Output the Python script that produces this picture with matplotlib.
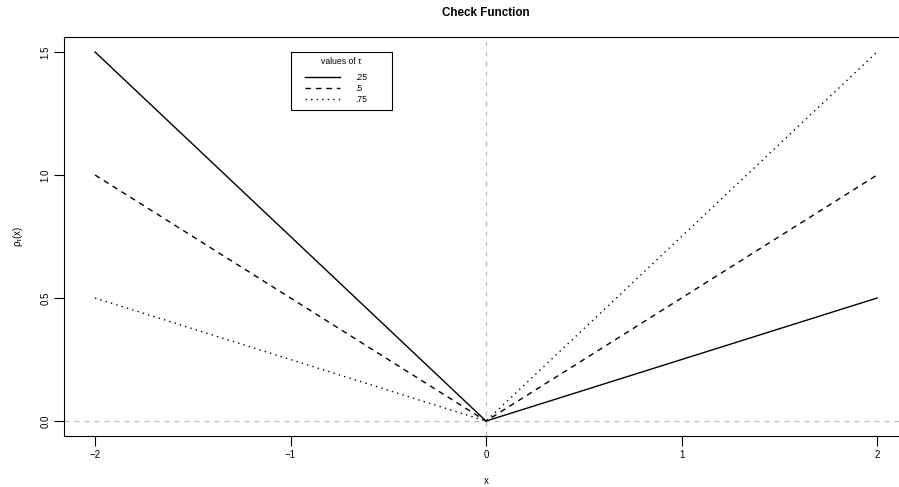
import matplotlib
matplotlib.use("Agg")
import matplotlib.pyplot as plt
from matplotlib.lines import Line2D
from matplotlib.legend_handler import HandlerLine2D

plt.rcParams['font.family'] = ['Liberation Sans', 'DejaVu Sans']
plt.rcParams['mathtext.fontset'] = 'custom'
plt.rcParams['mathtext.rm'] = 'Liberation Sans'
plt.rcParams['mathtext.it'] = 'Liberation Sans'

x_vals = [-2, 0, 2]
tau_labels = [".25", ".5", ".75"]
rho_025 = [1.5, 0.0, 0.5]
rho_050 = [1.0, 0.0, 1.0]
rho_075 = [0.5, 0.0, 1.5]
xticks = [-2, -1, 0, 1, 2]
yticks = [0.0, 0.5, 1.0, 1.5]
ytick_labels = ["0.0", "0.5", "1.0", "1.5"]

fig = plt.figure(figsize=(8.99, 4.87), dpi=100)
ax = fig.add_axes([0.0709, 0.1051, 0.9395, 0.8185])

ax.axvline(0, color="#bebebe", lw=0.9, ls=(0, (4, 4)), zorder=1)
ax.axhline(0, color="#bebebe", lw=0.9, ls=(0, (4, 4)), zorder=1)

ax.plot(x_vals, rho_025, color="black", lw=1.0, ls="-", label=tau_labels[0])
ax.plot(x_vals, rho_050, color="black", lw=1.0, ls=(0, (4, 3.5)), label=tau_labels[1])
ax.plot(x_vals, rho_075, color="black", lw=1.0, ls=(0, (1, 3)), label=tau_labels[2])

ax.set_xlim(-2.16, 2.16)
ax.set_ylim(-0.06, 1.56)
ax.set_xticks(xticks)
ax.set_xticklabels([str(t).replace("-", "\u2212") for t in xticks])
ax.set_yticks(yticks)
ax.set_yticklabels(ytick_labels, rotation=90, va="center")
ax.tick_params(direction="out", length=7, width=0.8, labelsize=7, pad=3)
ax.tick_params(axis="y", pad=2.8)
for s in ax.spines.values():
    s.set_linewidth(0.8)

ax.set_title("Check Function", fontsize=8.4, fontweight="bold", pad=15)
ax.set_xlabel("x", fontsize=7, labelpad=12)
ax.set_ylabel(r"$\rho_\tau(x)$", fontsize=7, labelpad=11)

leg = ax.legend(title="values of \u03c4\n", loc="upper left",
                bbox_to_anchor=(0.269, 0.963, 0.1196, 0.0), mode="expand",
                fontsize=6.2, title_fontsize=6.2, frameon=True, fancybox=False,
                edgecolor="black", framealpha=1, handlelength=6.05,
                handletextpad=0.76, labelspacing=0.25, borderpad=0.6,
                borderaxespad=0, numpoints=2,
                handler_map={Line2D: HandlerLine2D(marker_pad=1.0, numpoints=2)})
leg.get_frame().set_linewidth(0.8)
leg.get_title().set_linespacing(0.4)

fig.savefig("out.png", dpi=100)
